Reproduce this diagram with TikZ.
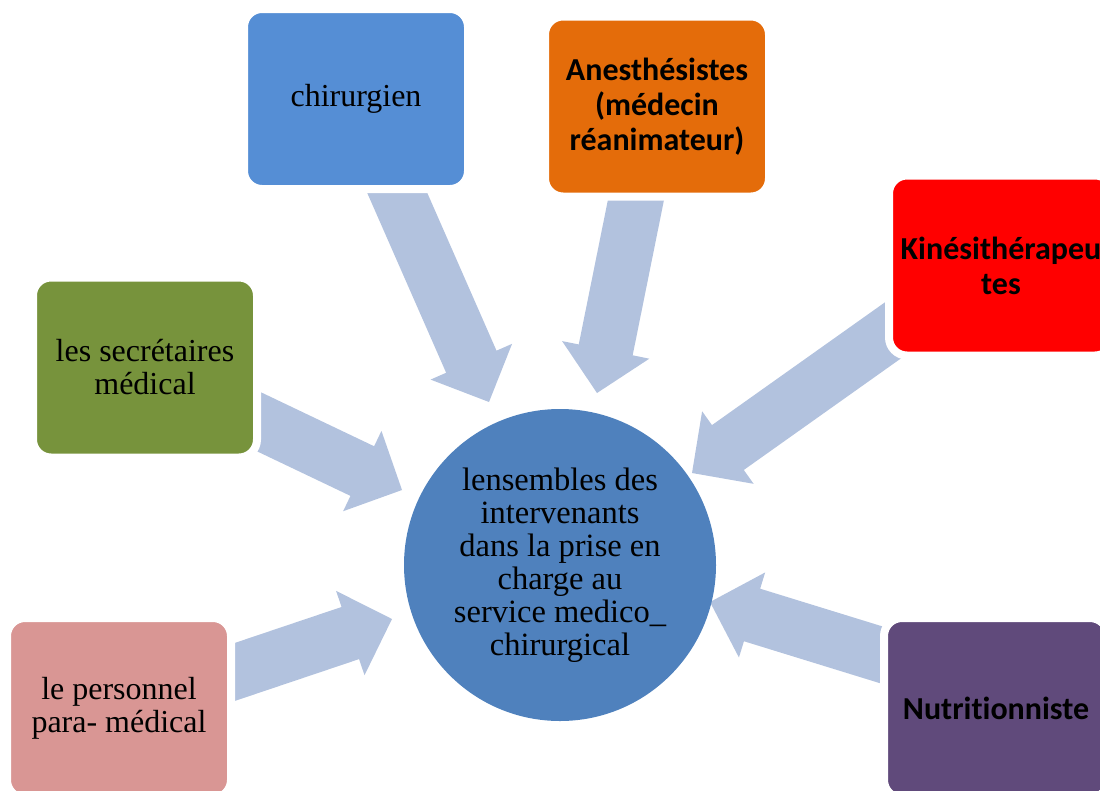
\documentclass[tikz,border=0pt]{standalone}
\usepackage{fontspec}
\setmainfont{Liberation Serif}
\newfontfamily\calibfont[Ligatures=NoCommon]{Carlito}
\usetikzlibrary{calc}
\definecolor{cChir}{HTML}{558ED5}
\definecolor{cAnes}{HTML}{E46C0A}
\definecolor{cKine}{HTML}{FF0000}
\definecolor{cSecr}{HTML}{77933C}
\definecolor{cPers}{HTML}{D99694}
\definecolor{cNutr}{HTML}{604A7B}
\definecolor{cCirc}{HTML}{4F81BD}
\definecolor{cArrow}{HTML}{B2C2DE}
\newcommand\radarrow[2]{%
  \coordinate (hb) at ($(#2)!44pt!(#1)$);
  \fill[arrowfill] ($(#1)!27.5pt!90:(#2)$) -- ($(hb)!27.5pt!-90:(#1)$) -- ($(hb)!44.5pt!-90:(#1)$) -- (#2) -- ($(hb)!44.5pt!90:(#1)$) -- ($(hb)!27.5pt!90:(#1)$) -- ($(#1)!27.5pt!-90:(#2)$) -- cycle;}
\begin{document}
\begin{tikzpicture}[x=1pt,y=-1pt,
  arrowfill/.style={fill=cArrow},
  box/.style={rectangle, rounded corners=18pt, minimum width=224pt, minimum height=180pt,
    draw=white, line width=8pt, inner sep=0pt, align=center},
  serif/.style={font=\fontsize{32}{33}\selectfont},
  sansb/.style={font=\calibfont\bfseries\fontsize{32}{35}\selectfont},
  hub/.style={circle, fill=cCirc, minimum size=312pt, inner sep=0pt, align=center,
    font=\fontsize{32.5}{33}\selectfont}]
\useasboundingbox (0,0) rectangle (1100,790);
\clip (0,0) rectangle (1100,790);
% arrow end points
\coordinate (t1) at (385,165);  \coordinate (h1) at (489,402);
\coordinate (t2) at (643,165);  \coordinate (h2) at (597,393);
\coordinate (t3) at (916,314);  \coordinate (h3) at (692,473);
\coordinate (t4) at (217.5,402); \coordinate (h4) at (402,490);
\coordinate (t5) at (199,684);  \coordinate (h5) at (392,619);
\coordinate (t6) at (924,668);  \coordinate (h6) at (710,602);
\radarrow{t1}{h1}
\radarrow{t2}{h2}
\radarrow{t3}{h3}
\radarrow{t4}{h4}
\radarrow{t5}{h5}
\radarrow{t6}{h6}
% boxes
\node[box, fill=cChir, serif] (chir) at (356,99) {chirurgien};
\node[box, fill=cAnes, sansb] (anes) at (657,106.5) {Anesthésistes\\(médecin\\réanimateur)};
\node[box, fill=cKine, sansb] (kine) at (1001,265.5) {Kinésithérapeu\\tes};
\node[box, fill=cSecr, serif] (secr) at (145,367.5) {les secrétaires\\médical};
\node[box, fill=cPers, serif] (pers) at (119,708) {le personnel\\para- médical};
\node[box, fill=cNutr, sansb] (nutr) at (996,708) {Nutritionniste};
\node[hub] (hub) at (560,565) {lensembles des\\intervenants\\dans la prise en\\charge au\\service medico\_\\chirurgical};
\end{tikzpicture}
\end{document}
